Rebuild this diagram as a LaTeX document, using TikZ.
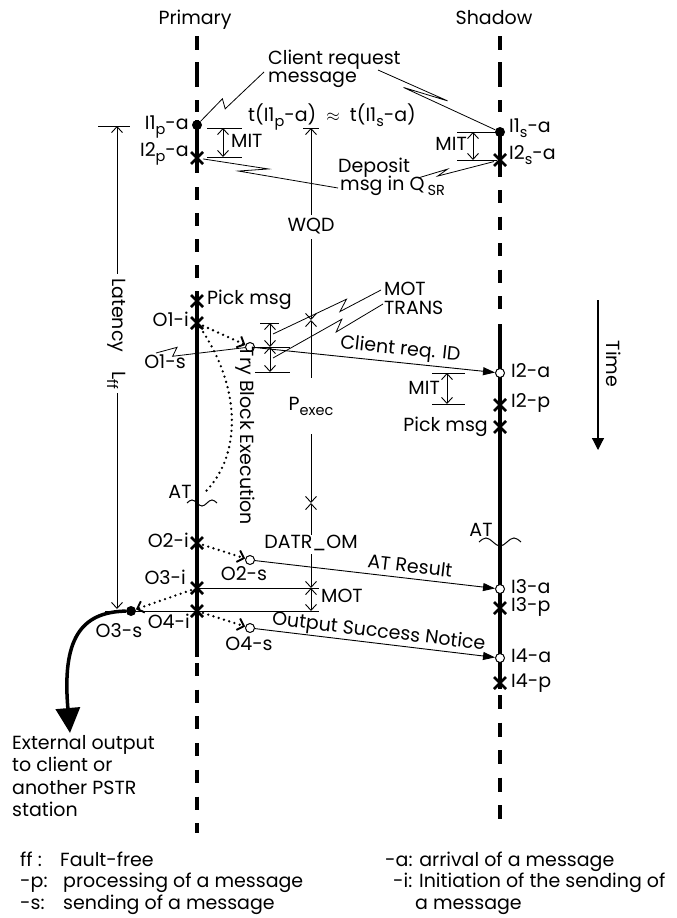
\documentclass[tikz,border=0pt]{standalone}
\usepackage{fontspec}
\setmainfont{Poppins}
\usetikzlibrary{arrows.meta,calc,shapes.misc}
\newcommand{\diagfont}{\fontsize{19}{18}\selectfont}
\newcommand{\sbs}[1]{\raisebox{-0.3em}{\fontsize{14.5}{14.5}\selectfont #1}}
\tikzset{
  lbl/.style={font=\diagfont, inner sep=0pt, text height=12pt, text depth=3.5pt},
  xmark/.style={cross out, draw, line width=2.5pt, minimum size=9.5pt, inner sep=0pt},
  dotmark/.style={circle, fill, minimum size=10pt, inner sep=0pt},
  omark/.style={circle, draw, fill=white, line width=1pt, minimum size=9pt, inner sep=0pt},
  lifedash/.style={line width=4pt},
  lifesolid/.style={line width=3.2pt},
  tick/.style={line width=0.9pt},
  dim/.style={line width=0.9pt, {Straight Barb[length=6pt,width=11pt]}-{Straight Barb[length=6pt,width=11pt]}},
  msg/.style={line width=0.9pt, -{Triangle[length=12pt,width=8pt]}},
  dotline/.style={line width=2.6pt, line cap=round, dash pattern=on 0pt off 5.5pt},
  dotarrow/.style={dotline, -{Straight Barb[length=6pt,width=12pt,line width=1.9pt]}},
  wave/.style={line width=1pt},
  bigarrow/.style={line width=3.5pt, -{Triangle[length=25pt,width=24pt]}},
  timearrow/.style={line width=1.2pt, -{Triangle[length=12pt,width=12pt]}},
  bolt/.style n args={3}{line width=0.8pt, to path={-- ($(\tikztostart)!#1!(\tikztotarget)!#2!#3:(\tikztotarget)$) -- ($(\tikztostart)!#1!(\tikztotarget)!-#2!#3:(\tikztotarget)$) -- (\tikztotarget)}},
}
\begin{document}
\begin{tikzpicture}[x=1pt,y=-1pt]
\useasboundingbox (0,0) rectangle (677,918);

% headings
\node[lbl] (hp) at (195,20) {Primary};
\node[lbl] (hs) at (494,20) {Shadow};

% lifelines
\draw[lifedash, dash pattern=on 14pt off 12pt on 25pt off 13pt on 12pt off 100pt] (197,36) -- (197,112);
\draw[lifesolid] (197,120) -- (197,173);
\draw[lifedash, dash pattern=on 12.5pt off 13.5pt] (197,187) -- (197,278);
\draw[lifesolid] (197,291) -- (197,657);
\draw[lifedash, dash pattern=on 13pt off 13.7pt] (197,663) -- (197,833);

\draw[lifedash, dash pattern=on 14pt off 12pt on 25pt off 13pt on 12pt off 100pt] (500,36) -- (500,112);
\draw[lifesolid] (500,128) -- (500,177);
\draw[lifedash, dash pattern=on 13pt off 13.5pt] (500,190) -- (500,310);
\draw[lifesolid] (500,324) -- (500,689);
\draw[lifedash, dash pattern=on 14pt off 13.5pt] (500,695) -- (500,819);

% primary events
\node[dotmark] (i1p) at (197,125) {};
\node[xmark] (i2p) at (197,158) {};
\node[xmark] (pkp) at (197,301) {};
\node[xmark] (o1i) at (197,323) {};
\node[xmark] (o2i) at (197,543) {};
\node[xmark] (o3i) at (197,588) {};
\node[xmark] (o4i) at (197,611) {};
\node[omark] (o1s) at (250,347) {};
\node[omark] (o2s) at (250,560) {};
\node[omark] (o4s) at (250,628) {};

% shadow events
\node[dotmark] (i1s) at (500,132) {};
\node[xmark] (i2s) at (500,160) {};
\node[omark] (i2a) at (500,373) {};
\node[xmark] (i2pp) at (500,405) {};
\node[xmark] (pks) at (500,427) {};
\node[omark] (i3a) at (500,589) {};
\node[xmark] (i3p) at (500,608) {};
\node[omark] (i4a) at (500,658) {};
\node[xmark] (i4p) at (500,683) {};

% labels of events
\node[lbl, anchor=east] (li1p) at (189,125) {I1\sbs{p}-a};
\node[lbl, anchor=east] (li2p) at (189,152) {I2\sbs{p}-a};
\node[lbl, anchor=west] (lpkp) at (207,300) {Pick msg};
\node[lbl, anchor=east] (lo1i) at (189,322) {O1-i};
\node[lbl] (lo1s) at (165,364) {O1-s};
\node[lbl, anchor=east] (lo2i) at (189,543) {O2-i};
\node[lbl] (lo2s) at (244,576) {O2-s};
\node[lbl, anchor=east] (lo3i) at (186,580) {O3-i};
\node[lbl] (lo3s) at (119,633) {O3-s};
\node[lbl, anchor=east] (lo4i) at (190,624) {O4-i};
\node[lbl] (lo4s) at (249,646) {O4-s};

\node[lbl, anchor=west] (li1s) at (509,128) {I1\sbs{s}-a};
\node[lbl, anchor=west] (li2s) at (509,155) {I2\sbs{s}-a};
\node[lbl, anchor=west] (li2a) at (511,373) {I2-a};
\node[lbl, anchor=west] (li2pp) at (511,403) {I2-p};
\node[lbl, anchor=east] (lpks) at (488,427) {Pick msg};
\node[lbl, anchor=west] (li3a) at (511,589) {I3-a};
\node[lbl, anchor=west] (li3p) at (511,607) {I3-p};
\node[lbl, anchor=west] (li4a) at (511,658) {I4-a};
\node[lbl, anchor=west] (li4p) at (511,683) {I4-p};

% client request / deposit texts
\node[lbl, anchor=west] (cr1) at (268,60) {Client request};
\node[lbl, anchor=west] (cr2) at (268,78) {message};
\node[lbl, anchor=west] (dp1t) at (338,168) {Deposit};
\node[lbl, anchor=west] (dp2t) at (340,186) {msg in Q\,\sbs{SR}};
\node[lbl] (teq) at (332,117) {t(I1\sbs{p}-a) \ $\approx$\ \ t(I1\sbs{s}-a)};

\coordinate (crq1) at (264,72);
\coordinate (crq2) at (378,70);
\coordinate (dpl) at (338,188);
\coordinate (dpr) at (418,178);
\draw[bolt={0.6}{5.2pt}{67}] (crq1) to (i1p);
\draw[bolt={0.39}{23pt}{10}] (crq2) to (i1s);
\draw[bolt={0.6}{15pt}{16}] (dpl) to (i2p);
\draw[bolt={0.3}{6pt}{23}] (dpr) to (i2s);

% MIT brackets
\draw[tick] (207,128) -- (242,128);
\draw[tick] (207,157) -- (242,157);
\coordinate (mp1) at (223,128); \coordinate (mp2) at (223,157);
\draw[dim] (mp1) -- (mp2);
\node[lbl, anchor=west] (lmitp) at (231,143) {MIT};

\draw[tick] (457,132) -- (497,132);
\draw[tick] (457,160) -- (497,160);
\coordinate (ms1) at (473,132); \coordinate (ms2) at (473,160);
\draw[dim] (ms1) -- (ms2);
\node[lbl, anchor=east] (lmits) at (467,146) {MIT};

\draw[tick] (432,373) -- (465,373);
\draw[tick] (432,404) -- (465,404);
\coordinate (mt1) at (447,373); \coordinate (mt2) at (447,404);
\draw[dim] (mt1) -- (mt2);
\node[lbl, anchor=east] (lmitt) at (440,390) {MIT};

% MOT / TRANS brackets
\draw[tick] (260,323) -- (279,323);
\draw[tick] (252,347) -- (290,347);
\draw[tick] (255,372) -- (290,372);
\coordinate (bt0) at (270,323); \coordinate (bt1) at (270,347); \coordinate (bt2) at (270,372);
\draw[dim] (bt0) -- (bt1);
\draw[dim] (bt1) -- (bt2);
\node[lbl, anchor=west] (lmot) at (384,291) {MOT};
\node[lbl, anchor=west] (ltrans) at (384,310) {TRANS};
\coordinate (motc) at (381,290); \coordinate (trc) at (383,304);
\coordinate (motb) at (273,334); \coordinate (trb) at (273,358);
\draw[bolt={0.35}{7pt}{40}] (motc) to (motb);
\draw[bolt={0.4}{7pt}{40}] (trc) to (trb);

% WQD / Pexec / DATR_OM / MOT stack
\draw[tick] (303,128) -- (319,128);
\coordinate (w0) at (311,128); \coordinate (w1) at (311,320);
\coordinate (w2) at (311,503); \coordinate (w3) at (311,588); \coordinate (w4) at (311,611);
\draw[dim] (w0) -- node[lbl, fill=white, inner ysep=4pt, pos=0.515] (lwqd) {WQD} (w1);
\draw[dim] (w1) -- node[lbl, fill=white, minimum height=56pt, pos=0.47] (lpex) {P\sbs{exec}} (w2);
\draw[dim] (w2) -- node[lbl, fill=white, inner ysep=2pt, pos=0.49] (ldatr) {DATR\_OM} (w3);
\draw[dim] (w3) -- (w4);
\node[lbl, anchor=west] (lmot2) at (321,598) {MOT};
\coordinate (w3e) at (319,588);
\coordinate (w4e) at (319,611);
\coordinate (lat0) at (105,611);
\draw[tick] (o3i.center) -- (w3e);
\draw[tick] (lat0) -- (w4e);

% latency
\draw[tick] (98,126) -- (130,126);
\coordinate (lt) at (117,126); \coordinate (lb) at (117,609);
\draw[dim] (lt) -- node[lbl, rotate=-90, fill=white, inner xsep=4pt, inner ysep=3pt, pos=0.43] (llat) {Latency\quad L\sbs{ff}} (lb);

% time
\coordinate (t0) at (598,300); \coordinate (t1) at (598,450);
\draw[timearrow] (t0) -- (t1);
\node[lbl, rotate=-90] (ltime) at (611,364) {Time};

% try block execution
\coordinate (atp) at (203,494);
\draw[dotline] (o1i.center) .. controls (245,390) and (240,460) .. (atp);
\node[lbl, rotate=-90] (ltry) at (245,436) {Try Block Execution};

% AT waves
\node[lbl] (latp) at (180,494) {AT};
\draw[wave] (187,503) sin (192,500) cos (197,503) sin (202,506) cos (207,503) sin (212,500) cos (217,503);
\node[lbl] (lats) at (481,532) {AT};
\draw[wave] (479,542) sin (486,538) cos (493,542) sin (500,546) cos (507,542) sin (514,538) cos (521,542);

% dotted arrows
\draw[dotarrow] (o1i) -- (o1s);
\draw[dotarrow] (o2i) -- (o2s);
\node[dotmark] (o3s) at (131,611) {};
\draw[dotarrow] (o3i) -- (o3s);
\draw[dotarrow] (o4i) -- (o4s);

% O1-s bolt
\coordinate (o1sl) at (156,353);
\draw[bolt={0.2}{5pt}{60}] (o1sl) to (o1s);

% messages
\draw[msg] (o1s) -- node[lbl, sloped, above=4pt, pos=0.6] (lcid) {Client req. ID} (i2a);
\draw[msg] (o2s) -- node[lbl, sloped, above=2pt, pos=0.64] (latr) {AT Result} (i3a);
\draw[msg] (o4s) -- node[lbl, sloped, above=2pt, pos=0.51] (losn) {Output Success Notice} (i4a);

% external output
\coordinate (ext) at (70,733);
\draw[bigarrow] (o3s) .. controls (80,612) and (62,640) .. (ext);
\node[lbl, anchor=west] (e1) at (12,745) {External output};
\node[lbl, anchor=west] (e2) at (12,767) {to client or};
\node[lbl, anchor=west] (e3) at (12,790) {another PSTR};
\node[lbl, anchor=west] (e4) at (12,812) {station};

% legend
\node[lbl, anchor=west] (k1) at (20,862) {ff :};
\node[lbl, anchor=west] (d1) at (60,862) {Fault-free};
\node[lbl, anchor=west] (k2) at (20,883) {-p:};
\node[lbl, anchor=west] (d2) at (63,883) {processing of a message};
\node[lbl, anchor=west] (k3) at (20,905) {-s:};
\node[lbl, anchor=west] (d3) at (63,905) {sending of a message};
\node[lbl, anchor=west] (r1) at (385,862) {-a: arrival of a message};
\node[lbl, anchor=west] (r2) at (393,883) {-i: Initiation of the sending of};
\node[lbl, anchor=west] (r3) at (415,905) {a message};
\end{tikzpicture}
\end{document}
